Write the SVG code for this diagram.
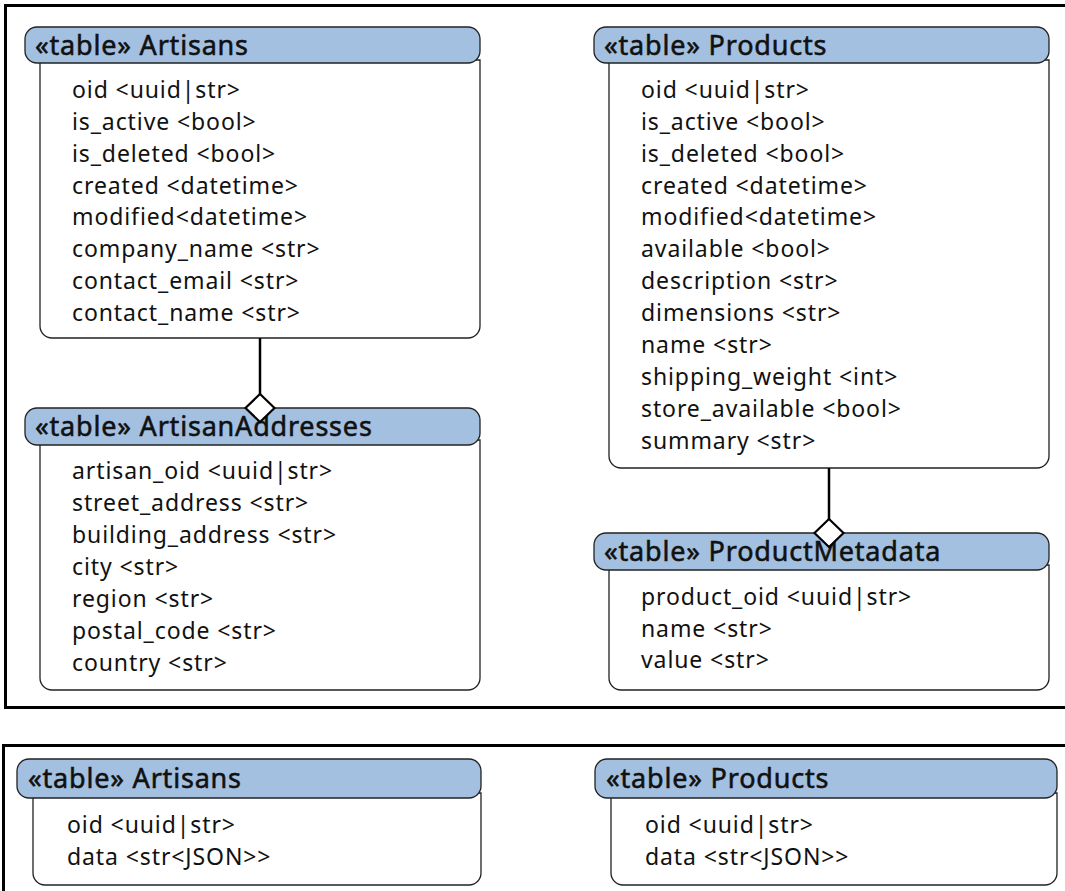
<svg xmlns="http://www.w3.org/2000/svg" width="1065" height="891" viewBox="0 0 1065 891">
<style>
.frame{fill:none;stroke:#000;stroke-width:3}
.hdr{fill:#a3c0e0;stroke:#222;stroke-width:1.3}
.body{fill:#fff;stroke:#222;stroke-width:1.3}
.ht{font-family:"Noto Sans","Open Sans",sans-serif;font-size:27px;letter-spacing:0.8px;fill:#111;stroke:#111;stroke-width:0.55}
.rt{font-family:"Noto Sans","Open Sans",sans-serif;font-size:23px;letter-spacing:0.9px;fill:#111}
.conn{stroke:#000;stroke-width:2.5;fill:none}
.dia{fill:#fff;stroke:#000;stroke-width:2.2}
</style>
<rect width="1065" height="891" fill="#fff"/>
<rect class="frame" x="5.5" y="5.5" width="1070" height="702"/>
<rect class="frame" x="3.5" y="745.5" width="1070" height="160"/>

<g id="artisans">
<path class="body" d="M40,60 V326 a12,12 0 0 0 12,12 H468 a12,12 0 0 0 12,-12 V60 Z"/>
<rect class="hdr" x="25" y="27" width="455" height="36" rx="12"/>
<text class="ht" x="35" y="55">«table» Artisans</text>
<text class="rt" x="72" y="98">oid &lt;uuid|str&gt;</text>
<text class="rt" x="72" y="130">is_active &lt;bool&gt;</text>
<text class="rt" x="72" y="162">is_deleted &lt;bool&gt;</text>
<text class="rt" x="72" y="194">created &lt;datetime&gt;</text>
<text class="rt" x="72" y="225">modified&lt;datetime&gt;</text>
<text class="rt" x="72" y="257">company_name &lt;str&gt;</text>
<text class="rt" x="72" y="289">contact_email &lt;str&gt;</text>
<text class="rt" x="72" y="321">contact_name &lt;str&gt;</text>
</g>

<g id="artisan-addresses">
<path class="body" d="M40,440 V678 a12,12 0 0 0 12,12 H468 a12,12 0 0 0 12,-12 V440 Z"/>
<rect class="hdr" x="25" y="408" width="455" height="37" rx="12"/>
<text class="ht" x="35" y="436">«table» ArtisanAddresses</text>
<text class="rt" x="72" y="479">artisan_oid &lt;uuid|str&gt;</text>
<text class="rt" x="72" y="511">street_address &lt;str&gt;</text>
<text class="rt" x="72" y="543">building_address &lt;str&gt;</text>
<text class="rt" x="72" y="575">city &lt;str&gt;</text>
<text class="rt" x="72" y="607">region &lt;str&gt;</text>
<text class="rt" x="72" y="639">postal_code &lt;str&gt;</text>
<text class="rt" x="72" y="671">country &lt;str&gt;</text>
</g>

<g id="products">
<path class="body" d="M609,60 V456 a12,12 0 0 0 12,12 H1037 a12,12 0 0 0 12,-12 V60 Z"/>
<rect class="hdr" x="594" y="27" width="455" height="36" rx="12"/>
<text class="ht" x="604" y="55">«table» Products</text>
<text class="rt" x="641" y="98">oid &lt;uuid|str&gt;</text>
<text class="rt" x="641" y="130">is_active &lt;bool&gt;</text>
<text class="rt" x="641" y="162">is_deleted &lt;bool&gt;</text>
<text class="rt" x="641" y="194">created &lt;datetime&gt;</text>
<text class="rt" x="641" y="225">modified&lt;datetime&gt;</text>
<text class="rt" x="641" y="257">available &lt;bool&gt;</text>
<text class="rt" x="641" y="289">description &lt;str&gt;</text>
<text class="rt" x="641" y="321">dimensions &lt;str&gt;</text>
<text class="rt" x="641" y="353">name &lt;str&gt;</text>
<text class="rt" x="641" y="385">shipping_weight &lt;int&gt;</text>
<text class="rt" x="641" y="417">store_available &lt;bool&gt;</text>
<text class="rt" x="641" y="449">summary &lt;str&gt;</text>
</g>

<g id="product-metadata">
<path class="body" d="M609,565 V678 a12,12 0 0 0 12,12 H1037 a12,12 0 0 0 12,-12 V565 Z"/>
<rect class="hdr" x="594" y="533" width="455" height="37" rx="12"/>
<text class="ht" x="604" y="561">«table» ProductMetadata</text>
<text class="rt" x="641" y="605">product_oid &lt;uuid|str&gt;</text>
<text class="rt" x="641" y="637">name &lt;str&gt;</text>
<text class="rt" x="641" y="668">value &lt;str&gt;</text>
</g>

<g id="artisans-json">
<path class="body" d="M33,793 V873 a12,12 0 0 0 12,12 H469 a12,12 0 0 0 12,-12 V793 Z"/>
<rect class="hdr" x="17" y="759" width="464" height="39" rx="12"/>
<text class="ht" x="28" y="788">«table» Artisans</text>
<text class="rt" x="67" y="833">oid &lt;uuid|str&gt;</text>
<text class="rt" x="67" y="865">data &lt;str&lt;JSON&gt;&gt;</text>
</g>

<g id="products-json">
<path class="body" d="M611,793 V873 a12,12 0 0 0 12,12 H1045 a12,12 0 0 0 12,-12 V793 Z"/>
<rect class="hdr" x="595" y="759" width="462" height="39" rx="12"/>
<text class="ht" x="606" y="788">«table» Products</text>
<text class="rt" x="645" y="833">oid &lt;uuid|str&gt;</text>
<text class="rt" x="645" y="865">data &lt;str&lt;JSON&gt;&gt;</text>
</g>

<g id="connectors">
<line class="conn" x1="260" y1="338" x2="260" y2="394"/>
<polygon class="dia" points="260,394 274.5,408 260,422 245.5,408"/>
<line class="conn" x1="829" y1="468" x2="829" y2="519"/>
<polygon class="dia" points="829,519 843.5,533 829,547 814.5,533"/>
</g>
</svg>
